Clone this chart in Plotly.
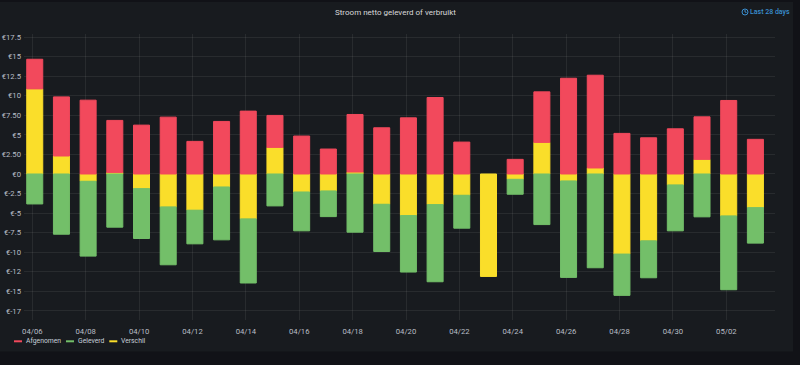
import plotly.graph_objects as go

dates = ["2021-04-06","2021-04-07","2021-04-08","2021-04-09","2021-04-10","2021-04-11","2021-04-12",
         "2021-04-13","2021-04-14","2021-04-15","2021-04-16","2021-04-17","2021-04-18","2021-04-19",
         "2021-04-20","2021-04-21","2021-04-22","2021-04-23","2021-04-24","2021-04-25","2021-04-26",
         "2021-04-27","2021-04-28","2021-04-29","2021-04-30","2021-05-01","2021-05-02","2021-05-03"]
afgenomen = [3.79,7.56,9.44,6.65,6.25,7.27,4.17,6.72,8.04,4.09,4.85,3.19,7.36,5.91,7.18,9.78,4.08,None,1.87,
             6.46,12.24,11.86,5.19,4.63,5.78,5.44,9.40,4.43]
geleverd = [-3.83,-7.70,-9.57,-6.80,-6.38,-7.40,-4.30,-6.76,-8.20,-4.08,-4.97,-3.28,-7.44,-6.04,-7.23,-9.87,
            -4.21,None,-1.91,-6.47,-12.33,-11.99,-5.28,-4.72,-5.87,-5.48,-9.44,-4.54]
verschil = [10.88,2.30,-0.93,0.20,-1.87,-4.21,-4.63,-1.66,-5.74,3.40,-2.30,-2.17,0.25,-3.87,-5.31,-3.91,
            -2.72,-13.10,-0.68,4.04,-0.89,0.77,-10.24,-8.55,-1.40,1.87,-5.36,-4.30]

y_ticks = [17.5,15,12.5,10,7.5,5,2.5,0,-2.5,-5,-7.5,-10,-12.5,-15,-17.5]
y_labels = ["€17.5","€15","€12.5","€10","€7.50","€5","€2.50","€0","€-2.5","€-5","€-7.5","€-10","€-12","€-15","€-17"]
x_ticks = ["2021-04-06","2021-04-08","2021-04-10","2021-04-12","2021-04-14","2021-04-16","2021-04-18",
           "2021-04-20","2021-04-22","2021-04-24","2021-04-26","2021-04-28","2021-04-30","2021-05-02"]
x_labels = ["04/06","04/08","04/10","04/12","04/14","04/16","04/18","04/20","04/22","04/24","04/26","04/28","04/30","05/02"]

RED, GREEN, YELLOW = "#F2495C", "#73BF69", "#FADE2A"
W, H = 800, 365
L, R, T, B = 24, 25, 34, 45
DAY = 86400000
FONT = "Roboto, Inter, sans-serif"

def px(x): return (x - L) / (W - L - R)
def py(y): return 1 - (y - T) / (H - T - B)

fig = go.Figure()
for name, vals, col in [("Verschil", verschil, YELLOW), ("Afgenomen", afgenomen, RED), ("Geleverd", geleverd, GREEN)]:
    fig.add_bar(x=dates, y=vals, name=name, marker=dict(color=col, line=dict(color=col, width=1)),
                width=0.6 * DAY, offset=-0.21 * DAY, showlegend=False)

shapes = [dict(type="rect", xref="paper", yref="paper", x0=px(0), x1=px(793), y0=py(2), y1=py(351.5),
               fillcolor="#181b1f", line=dict(width=0), layer="below")]
annotations = [
    dict(text="Stroom netto geleverd of verbruikt", x=px(395.5), y=py(12), xref="paper", yref="paper",
         showarrow=False, font=dict(family=FONT, size=8, color="#d8d9da"), xanchor="center", yanchor="middle"),
    dict(text="Last 28 days", x=px(748), y=py(12), xref="paper", yref="paper", showarrow=False,
         font=dict(family=FONT, size=7, color="#3a8fd0", weight=500), xanchor="left", yanchor="middle"),
]
shapes.append(dict(type="circle", xref="paper", yref="paper", x0=px(742), x1=px(748), y0=py(9), y1=py(15),
                   line=dict(color="#3a8fd0", width=1)))
shapes.append(dict(type="path", xref="paper", yref="paper", line=dict(color="#3a8fd0", width=1),
                   path=f"M {px(745)} {py(10)} L {px(745)} {py(12)} L {px(746.5)} {py(12.5)}"))
for name, col, x0, tx in [("Afgenomen", RED, 14, 24), ("Geleverd", GREEN, 66, 75.7), ("Verschil", YELLOW, 109.3, 119.3)]:
    shapes.append(dict(type="line", xref="paper", yref="paper", x0=px(x0), x1=px(x0 + 8), y0=py(341.3), y1=py(341.3),
                       line=dict(color=col, width=2)))
    annotations.append(dict(text=name, x=px(tx), y=py(341.3), xref="paper", yref="paper", showarrow=False,
                            font=dict(family=FONT, size=6.8, color="#c7d0d9"), xanchor="left", yanchor="middle"))

grid = "rgba(255,255,255,0.07)"
fig.update_layout(
    width=W, height=H, margin=dict(l=L, r=R, t=T, b=B, pad=0),
    paper_bgcolor="#111217", plot_bgcolor="rgba(0,0,0,0)",
    barmode="relative", showlegend=False, shapes=shapes, annotations=annotations,
    font=dict(family=FONT, size=7.7, color="#c7d0d9"),
    xaxis=dict(type="date", range=["2021-04-05 16:30", "2021-05-03 19:47"], tickvals=x_ticks, ticktext=x_labels,
               automargin=False, showgrid=True, gridcolor=grid, gridwidth=1, zeroline=False, showline=False, ticks="",
               ticklabelstandoff=5, tickfont=dict(size=7.7, color="#b9bec6")),
    yaxis=dict(range=[-18.67, 17.9], tickvals=y_ticks, ticktext=y_labels, showgrid=True, gridcolor=grid, gridwidth=1,
               automargin=False, zeroline=False, showline=False, ticks="", ticklabelstandoff=2,
               tickfont=dict(size=7.7, color="#b9bec6")),
)
fig.write_html("out.html", config=dict(displayModeBar=False),
               post_script="document.body.style.margin='0';document.body.style.background='#111217';")
